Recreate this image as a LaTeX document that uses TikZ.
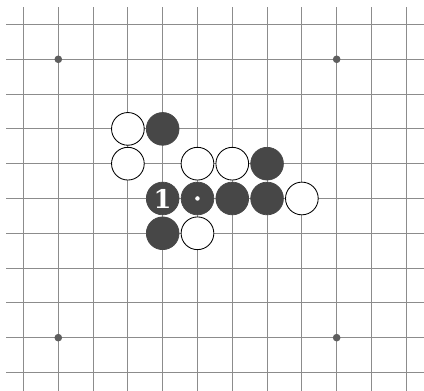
\documentclass[tikz,border=0pt]{standalone}
\usepackage{tikz}
\usepackage{fontspec}
\newfontfamily\stonefont{DejaVu Serif}

\definecolor{gridgray}{HTML}{8C8C8C}
\definecolor{stonedark}{HTML}{474747}
\definecolor{stargray}{HTML}{5E5E5E}

\begin{document}
\begin{tikzpicture}[x=1cm, y=-1cm,
	stoneb/.style={circle, fill=stonedark, draw=stonedark, line width=0.6pt, minimum size=0.94cm, inner sep=0pt},
	stonew/.style={circle, fill=white, draw=black, line width=0.7pt, minimum size=0.94cm, inner sep=0pt}]
	\useasboundingbox (-0.675,-0.704) rectangle (11.51,10.53);
	% board lines
	\foreach \c in {0,...,11} {
		\draw[line width=0.9pt, color=gridgray] (\c,-0.5) -- (\c,10.6);
	}
	\foreach \r in {0,...,10} {
		\draw[line width=0.9pt, color=gridgray] (-0.5,\r) -- (11.6,\r);
	}
	% star points
	\foreach \c/\r in {1/1, 9/1, 1/9, 9/9} {
		\fill[color=stargray] (\c,\r) circle (0.11);
	}
	% white stones
	\foreach \c/\r in {3/3, 3/4, 5/4, 6/4, 8/5, 5/6} {
		\node[stonew] (w\c\r) at (\c,\r) {};
	}
	% black stones
	\foreach \c/\r in {4/3, 7/4, 4/5, 5/5, 6/5, 7/5, 4/6} {
		\node[stoneb] (b\c\r) at (\c,\r) {};
	}
	\node[color=white, font=\stonefont\bfseries\fontsize{21}{21}\selectfont] (one) at (b45) {1};
	\fill[color=white] (b55) circle (0.065);
\end{tikzpicture}
\end{document}
